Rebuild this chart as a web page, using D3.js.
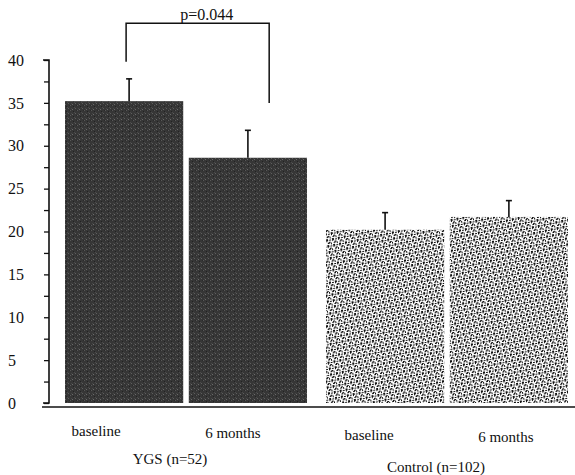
<!DOCTYPE html>
<html>
<head>
<meta charset="utf-8">
<script src="https://cdn.jsdelivr.net/npm/d3@7"></script>
<style>
  body { margin: 0; background: #fff; }
  svg text { font-family: "Liberation Serif", "Times New Roman", "DejaVu Serif", serif !important; fill: #111; }
</style>
</head>
<body>
<svg id="chart" width="575" height="475"></svg>
<script>
// Data
const groups = ["YGS (n=52)", "Control (n=102)"];
const times = ["baseline", "6 months"];
const ygsMean = [35.2, 28.6];
const ygsSE = [2.6, 3.2];
const controlMean = [20.2, 21.7];
const controlSE = [2.0, 1.9];
const yTicks = [0, 5, 10, 15, 20, 25, 30, 35, 40];
const pLabel = "p=0.044";

const rows = [];
groups.forEach((g, gi) => {
  const m = gi === 0 ? ygsMean : controlMean;
  const s = gi === 0 ? ygsSE : controlSE;
  times.forEach((t, ti) => rows.push({ group: g, time: t, gi: gi, ti: ti, mean: m[ti], se: s[ti] }));
});

const svg = d3.select("#chart");

// Scales
const y = d3.scaleLinear().domain([0, 40]).range([403, 60]);
const x0 = d3.scaleBand().domain(groups).range([65, 568]).paddingInner(0.0727).paddingOuter(0);
const x1 = d3.scaleBand().domain(times).range([0, x0.bandwidth()]).paddingInner(0.045).paddingOuter(0);

// Fill textures (scanned look)
const defs = svg.append("defs");
const dark = defs.append("pattern").attr("id", "dark").attr("patternUnits", "userSpaceOnUse")
  .attr("width", 7).attr("height", 5);
dark.append("rect").attr("width", 7).attr("height", 5).attr("fill", "#363636");
[[0, 0, "#585858"], [3, 1, "#222"], [5, 3, "#5e5e5e"], [1, 3, "#474747"], [6, 0, "#2a2a2a"], [2, 4, "#6a6a6a"], [4, 2, "#4a4a4a"]]
  .forEach(d => dark.append("rect").attr("x", d[0]).attr("y", d[1]).attr("width", 1).attr("height", 1).attr("fill", d[2]));

const light = defs.append("pattern").attr("id", "light").attr("patternUnits", "userSpaceOnUse")
  .attr("width", 6).attr("height", 6).attr("patternTransform", "rotate(-12)");
light.append("rect").attr("width", 6).attr("height", 6).attr("fill", "#fff");
[[0, 0, 2, 1], [3, 0, 1, 2], [0, 2, 1, 2], [2, 3, 2, 1], [5, 2, 1, 3], [1, 5, 2, 1]]
  .forEach(d => light.append("rect").attr("x", d[0]).attr("y", d[1]).attr("width", d[2]).attr("height", d[3]).attr("fill", "#111"));

// Y axis
const yAxis = svg.append("g")
  .attr("transform", "translate(49,0)")
  .attr("font-family", "Liberation Serif")
  .call(d3.axisLeft(y).tickValues(d3.range(0, 40.1, 2.5)).tickSize(5)
    .tickFormat(d => yTicks.includes(d) ? d : ""));
yAxis.attr("font-family", "Liberation Serif").attr("font-size", 16);
yAxis.select(".domain").attr("stroke", "#111").attr("stroke-width", 1.6).attr("d", `M-6,${y(40)}H0V${y(0)}H-6`);
yAxis.selectAll(".tick line").attr("stroke", "#111").attr("stroke-width", 1.3);
yAxis.selectAll(".tick text")
  .attr("text-anchor", "start").attr("x", -41)
  .style("font-size", "16px");

// Bars
svg.append("g").selectAll("rect")
  .data(rows).join("rect")
  .attr("x", d => x0(d.group) + x1(d.time))
  .attr("y", d => y(d.mean))
  .attr("width", x1.bandwidth())
  .attr("height", d => y(0) - y(d.mean))
  .attr("fill", d => d.gi === 0 ? "url(#dark)" : "url(#light)");

// Error bars (upper only)
const eb = svg.append("g").attr("stroke", "#111").attr("stroke-width", 1.6);
rows.forEach(d => {
  const cx = x0(d.group) + x1(d.time) + x1.bandwidth() / 2 + (d.ti === 0 && d.gi === 0 ? 5 : 0);
  eb.append("line").attr("x1", cx).attr("x2", cx).attr("y1", y(d.mean)).attr("y2", y(d.mean + d.se));
  eb.append("line").attr("x1", cx - 3).attr("x2", cx + 3).attr("y1", y(d.mean + d.se)).attr("y2", y(d.mean + d.se));
});

// X axis line
svg.append("line")
  .attr("x1", 42).attr("x2", 575)
  .attr("y1", y(0) + 4).attr("y2", y(0) + 4)
  .attr("stroke", "#111").attr("stroke-width", 1.6);

// Category labels
const labelShift = [-28, -15];
rows.forEach(d => {
  svg.append("text")
    .attr("x", x0(d.group) + x1(d.time) + x1.bandwidth() / 2 + labelShift[d.ti] + d.gi * 12)
    .attr("y", 436 + d.gi * 4 + d.ti * 2)
    .attr("text-anchor", "middle")
    .style("font-size", "15px")
    .text(d.time);
});
groups.forEach((g, gi) => {
  svg.append("text")
    .attr("x", x0(g) + x0.bandwidth() / 2 + (gi === 0 ? -16 : -11))
    .attr("y", 464 + gi * 8)
    .attr("text-anchor", "middle")
    .style("font-size", "15px")
    .text(g);
});

// Significance bracket between YGS baseline and 6 months
const bx1 = x0(groups[0]) + x1(times[0]) + x1.bandwidth() / 2 + 2;
const bx2 = x0(groups[0]) + x1(times[1]) + x1.bandwidth() * 0.68;
svg.append("path")
  .attr("d", `M${bx1},${y(39.8)}V${y(44.3)}H${bx2}V${y(35)}`)
  .attr("fill", "none").attr("stroke", "#111").attr("stroke-width", 1.5);
svg.append("text")
  .attr("x", (bx1 + bx2) / 2 + 9)
  .attr("y", 20)
  .attr("text-anchor", "middle")
  .style("font-size", "16px")
  .text(pLabel);
</script>
</body>
</html>
